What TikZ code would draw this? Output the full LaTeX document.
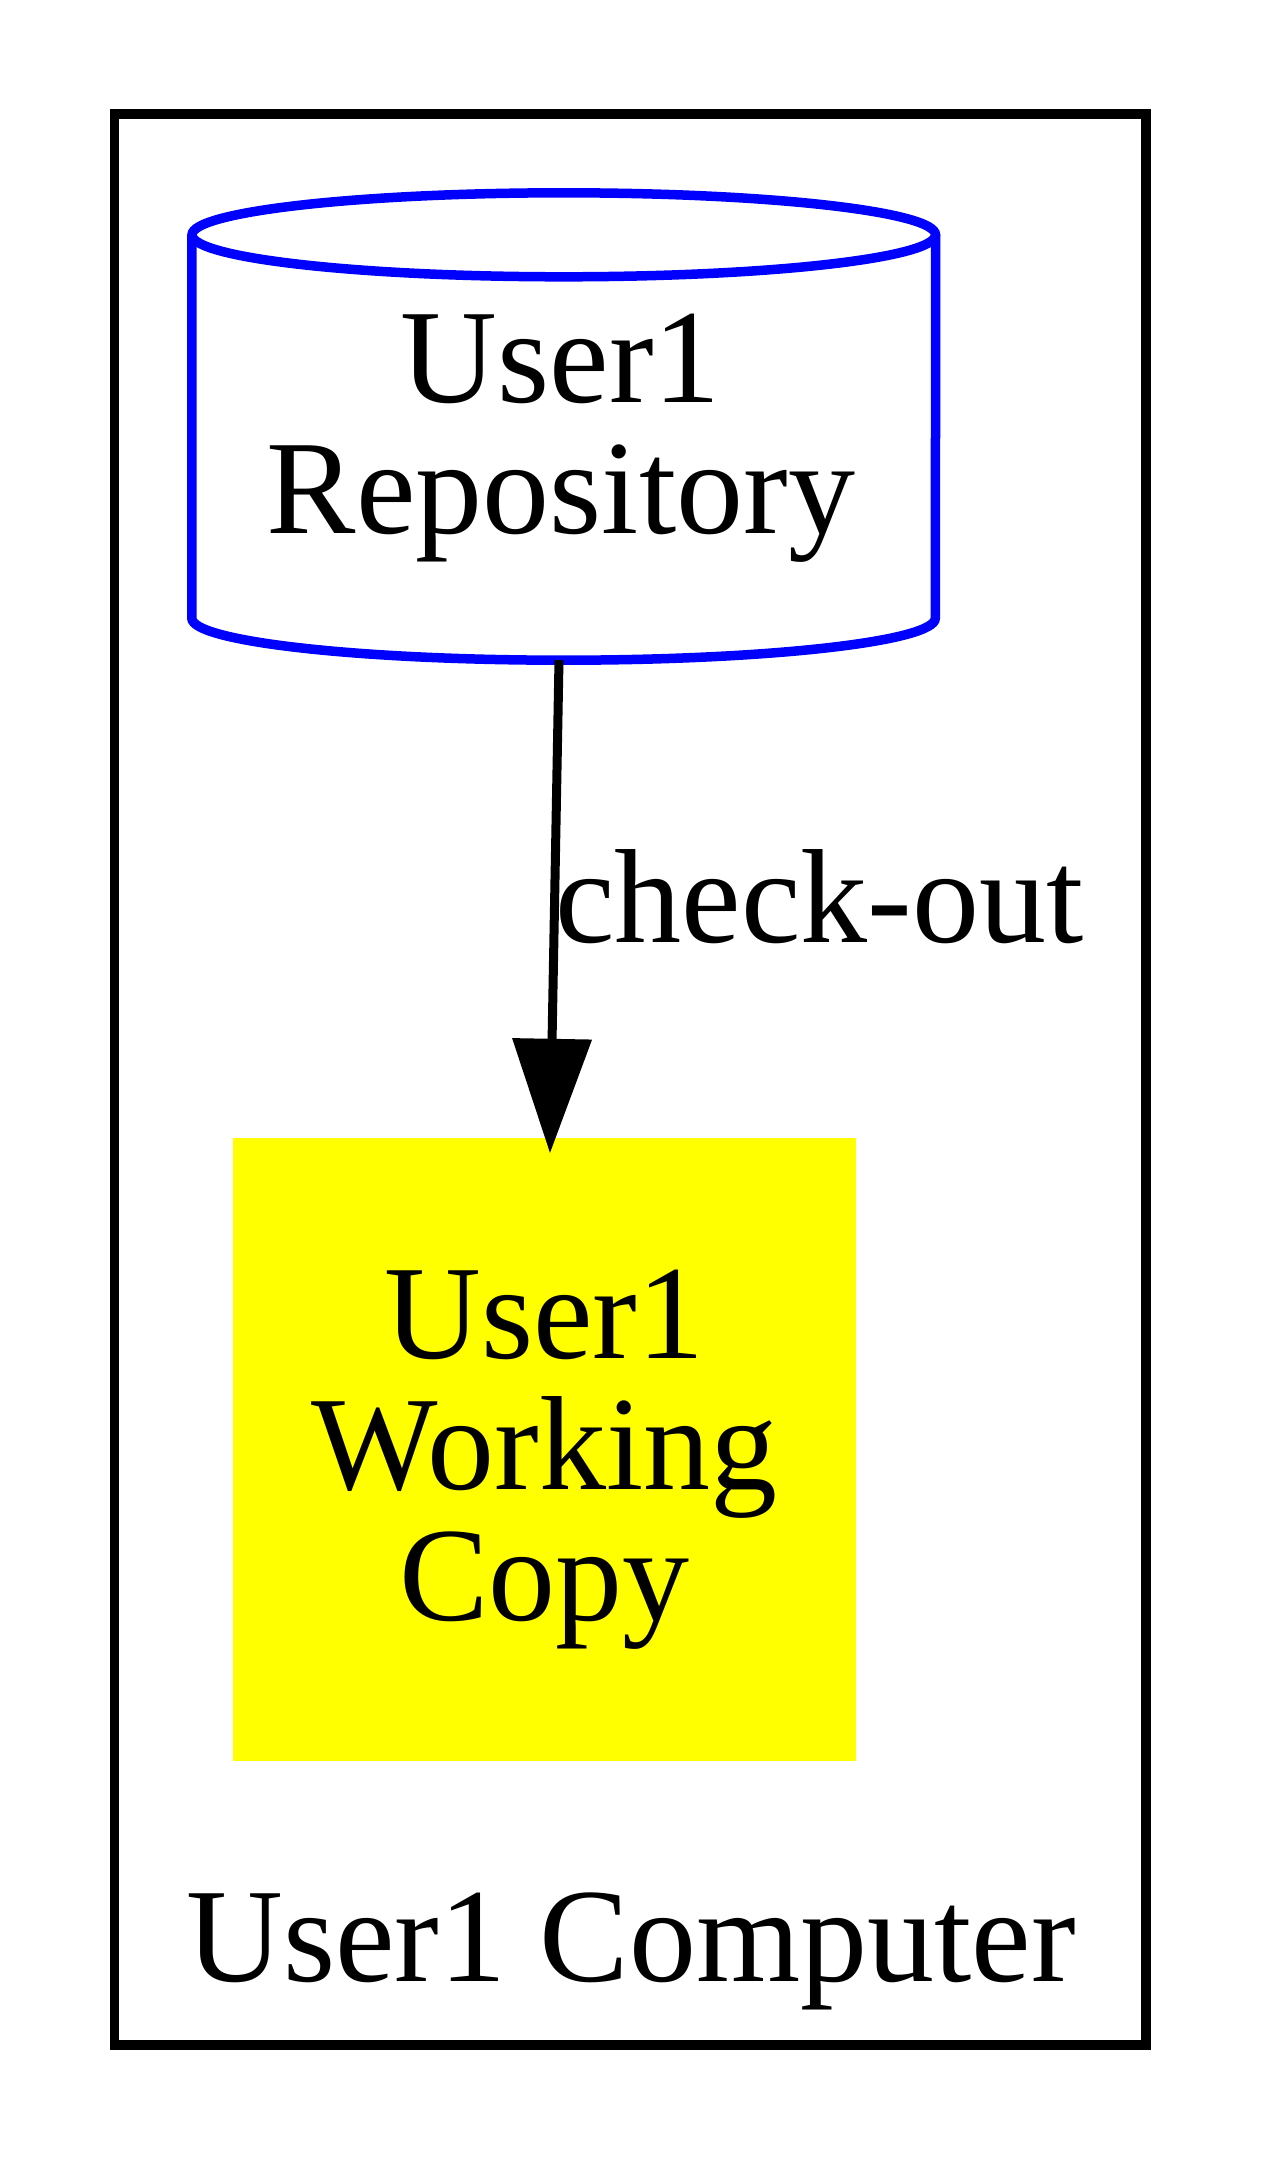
\documentclass[tikz,border=0pt]{standalone}
\usepackage{fontspec}
\setmainfont{Liberation Serif}
\usetikzlibrary{arrows.meta}
\definecolor{gvyellow}{RGB}{255,255,0}
\definecolor{gvblue}{RGB}{0,0,255}
\begin{document}
\begin{tikzpicture}[x=1pt,y=1pt,
  lbl/.style={font=\fontsize{134}{131}\selectfont, inner sep=0pt, align=center},
  cluster/.style={draw=black, line width=9.5pt, inner sep=0pt},
  cylbox/.style={inner sep=0pt, minimum width=743.5pt, minimum height=467pt},
  cylline/.style={draw=gvblue, line width=9.5pt},
  workbox/.style={fill=gvyellow, inner sep=0pt, minimum width=623pt, minimum height=623pt},
  edge/.style={line width=9pt, -{Triangle[length=114pt,width=80pt,line width=0pt]}}]
\useasboundingbox (0,0) rectangle (1261,-2160);
% cluster
\node[cluster, minimum width=1031.5pt, minimum height=1931pt] (computer) at (630.25,-1079.5) {};
\node[lbl, anchor=base] (computerlabel) at (631,-1981) {User1 Computer};
% repository cylinder
\node[cylbox] (repo) at (563.75,-426.5) {};
\draw[cylline] ([yshift=-42pt]repo.north) ellipse [x radius=371.75, y radius=42];
\draw[cylline] ([yshift=-42pt]repo.north west) -- ([yshift=42pt]repo.south west)
  arc[start angle=180, end angle=360, x radius=371.75, y radius=42]
  -- ([yshift=-42pt]repo.north east);
\node[lbl, anchor=base] (repotext) at (561,-533) {User1\\Repository};
% working copy
\node[workbox] (work) at (544.5,-1449.5) {};
\node[lbl, anchor=base] (worktext) at (544.5,-1620) {User1\\Working\\Copy};
% edge
\draw[edge] ([xshift=-4.75pt]repo.south) -- ([xshift=5.5pt,yshift=-15pt]work.north);
\node[lbl, anchor=base west] (edgelabel) at (555,-942) {check-out};
\end{tikzpicture}
\end{document}
